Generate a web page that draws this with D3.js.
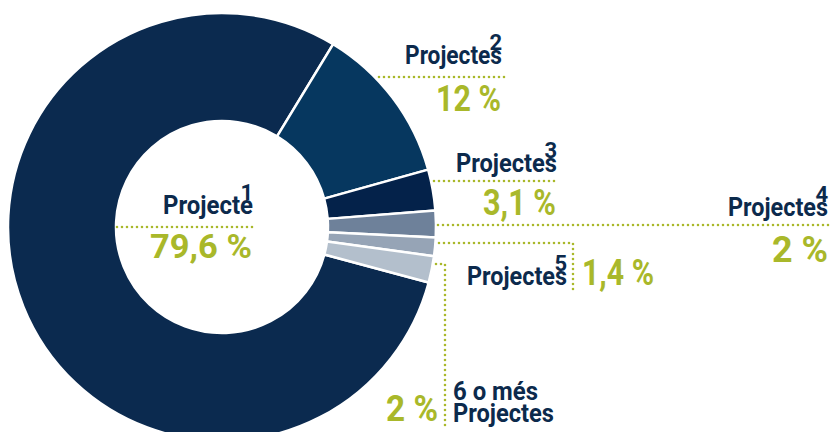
<!DOCTYPE html>
<html>
<head>
<meta charset="utf-8">
<script src="https://cdn.jsdelivr.net/npm/d3@7"></script>
<style>
  html, body { margin: 0; padding: 0; background: #fff; }
  svg { display: block; }
  text { font-family: Roboto, "DejaVu Sans", sans-serif; font-weight: 700; }
</style>
</head>
<body>
<div id="chart"></div>
<script>
// data
const categories = ["1 Projecte", "2 Projectes", "3 Projectes", "4 Projectes", "5 Projectes", "6 o més Projectes"];
const values = [79.6, 12, 3.1, 2, 1.4, 2];
const pctLabels = ["79,6 %", "12 %", "3,1 %", "2 %", "1,4 %", "2 %"];
const nameLines = [["Projecte"], ["Projectes"], ["Projectes"], ["Projectes"], ["Projectes"], ["6 o més", "Projectes"]];
const supers = ["1", "2", "3", "4", "5", ""];
const colors = ["#0b2a4f", "#06375f", "#04224a", "#6e819a", "#96a4b6", "#b3bfcc"];

const navy = "#0c2a4c";
const green = "#a9b82a";

const width = 832, height = 432;
const cx = 222, cy = 227, outerR = 214, innerR = 106;

const svg = d3.select("#chart").append("svg")
    .attr("width", width)
    .attr("height", height);

const total = d3.sum(values);
const firstEdge = 31.3 * Math.PI / 180; // edge between slice 1 and slice 2
const start = firstEdge - 2 * Math.PI * values[0] / total;

const pie = d3.pie().sort(null).value(d => d)
    .startAngle(start).endAngle(start + 2 * Math.PI);
const arc = d3.arc().innerRadius(innerR).outerRadius(outerR);

svg.append("g")
    .attr("transform", `translate(${cx},${cy})`)
    .selectAll("path")
    .data(pie(values))
    .enter().append("path")
    .attr("d", arc)
    .attr("fill", (d, i) => colors[i])
    .attr("stroke", "#fff")
    .attr("stroke-width", 2.5)
    .attr("stroke-linejoin", "round");

// label layout: leader lines + text positions
const layout = [
  { pts: [[117, 227], [254, 227]], nx: 253, ny: [214], nw: [90], px: 252, py: 258, ps: 34, pw: 102 },
  { pts: [[379, 77], [505, 77]], nx: 502, ny: [64], nw: [97], px: 501, py: 111, ps: 36, pw: 65 },
  { pts: [[434, 181], [557, 181]], nx: 557, ny: [172], nw: [101], px: 556, py: 215, ps: 36, pw: 73 },
  { pts: [[438, 225], [830, 225]], nx: 828, ny: [216], nw: [100], px: 828, py: 262, ps: 36, pw: 56 },
  { pts: [[439, 243], [573, 243], [573, 292]], nx: 567, ny: [285], nw: [100], px: 654, py: 285, ps: 36, pw: 72 },
  { pts: [[436, 264], [445, 264], [445, 428]], nx: 453, ny: [400, 422], nw: [85, 101], px: 438, py: 421, ps: 36, pw: 52, left: true }
];

const labels = svg.append("g");

layout.forEach((l, i) => {
  labels.append("path")
    .attr("d", d3.line()(l.pts))
    .attr("fill", "none")
    .attr("stroke", green)
    .attr("stroke-width", 2.6)
    .attr("stroke-linecap", "round")
    .attr("stroke-dasharray", "0 5");

  nameLines[i].forEach((t, j) => {
    labels.append("text")
      .attr("x", l.nx)
      .attr("y", l.ny[j])
      .attr("text-anchor", l.left ? "start" : "end")
      .attr("font-size", 26)
      .attr("fill", navy)
      .attr("textLength", l.nw[j])
      .attr("lengthAdjust", "spacingAndGlyphs")
      .text(t);
  });

  if (supers[i]) {
    labels.append("text")
      .attr("x", l.nx)
      .attr("y", l.ny[0] - 14)
      .attr("text-anchor", "end")
      .attr("font-size", 22)
      .attr("fill", navy)
      .text(supers[i]);
  }

  labels.append("text")
    .attr("x", l.px)
    .attr("y", l.py)
    .attr("text-anchor", "end")
    .attr("font-size", l.ps)
    .attr("fill", green)
    .attr("textLength", l.pw)
    .attr("lengthAdjust", "spacingAndGlyphs")
    .text(pctLabels[i]);
});
</script>
</body>
</html>
